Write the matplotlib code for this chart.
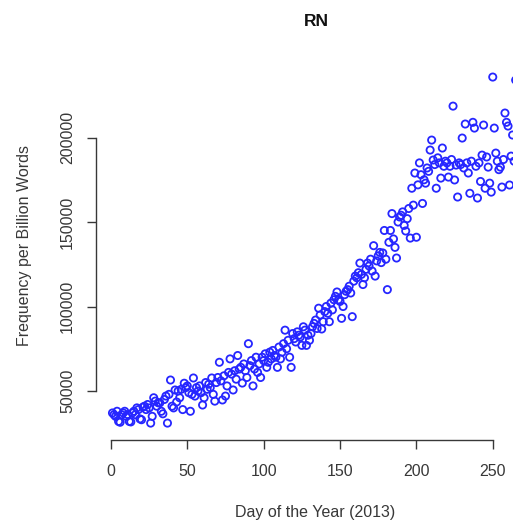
import numpy as np
import matplotlib
matplotlib.use("Agg")
import matplotlib.pyplot as plt

plt.rcParams["font.family"] = ["Liberation Sans", "DejaVu Sans"]

# daily frequency of "RN" (thousands per billion words), day 1 = 1 Jan 2013
freq_k = [
    37, 36, 35, 38, 32, 31.5, 36,
    37, 38, 35, 36, 32, 31.7, 37,
    38, 36, 40, 39, 33.5, 33, 40.5,
    41, 39, 42, 40, 31, 35, 46,
    44, 41, 43, 43, 38, 36.5, 45,
    47, 31, 48, 56.5, 41, 40, 50.6,
    43.5, 50, 46, 51, 39, 54.6, 52,
    53, 49, 38, 48, 57.7, 47, 52,
    50, 53, 49, 41.7, 46, 55, 51,
    54, 52, 57.7, 48, 44, 55, 58,
    67, 56, 44.7, 59, 47, 53, 61,
    69, 60, 50.6, 62, 57, 71, 63,
    64, 54.7, 66, 62, 58, 78, 65,
    68, 53, 63, 70, 61, 66, 58,
    70, 68, 72, 64, 67, 73, 69,
    74, 71, 70, 64, 76, 69, 73,
    78, 86, 75, 80, 70, 64, 84,
    81, 79, 85, 83, 82, 77, 88,
    86, 77, 83, 80, 84, 88, 90,
    92, 87, 99, 95, 86.7, 91, 97,
    100, 96, 91, 102, 98, 104, 106,
    108.6, 104, 103, 93, 100, 107, 109,
    110, 112, 108, 94, 115, 118, 117,
    120, 125.7, 119, 113, 117, 122, 125.7,
    124, 128, 121, 136, 118, 127, 130,
    132, 126, 131.7, 145, 128, 110, 138,
    145, 155, 140, 135, 128.7, 150, 153,
    154, 156, 148, 144.7, 152, 158, 140.5,
    170, 160, 179, 141, 172, 185, 178,
    161, 175, 173, 182, 180, 192.6, 198.5,
    186.7, 184, 170, 188, 185, 176, 193.8,
    183, 186, 185, 176.6, 183, 187, 218.6,
    174.9, 183.7, 164.8, 185, 184, 199.7, 182,
    208, 185, 179, 167, 186, 209, 205.6,
    183, 164.2, 185, 174, 189.6, 207.4, 170,
    188.5, 182.5, 173, 167.7, 235.8, 205.6, 190.8,
    186, 181, 182.5, 170.7, 187, 214.5, 209,
    206.8, 171.9, 189, 201.5, 186, 234,
]
days = np.arange(1, len(freq_k) + 1)
freq = np.array(freq_k) * 1000

x_ticks = [0, 50, 100, 150, 200, 250]
y_ticks = [50000, 100000, 150000, 200000]

ink = "#383838"

fig = plt.figure(figsize=(5.13, 5.26), dpi=100)
ax = fig.add_axes([0.1871, 0.1635, 0.8538, 0.7186])

ax.scatter(days, freq, s=27, facecolors="none", edgecolors="#2626ff", linewidths=1.3)

ax.set_xlim(-9.8, 277)
ax.set_ylim(21000, 244700)

# base-R look: no box, axis lines only span the ticks
for side in ["top", "right"]:
    ax.spines[side].set_visible(False)
ax.spines["left"].set_bounds(y_ticks[0], y_ticks[-1])
ax.spines["bottom"].set_bounds(x_ticks[0], x_ticks[-1])
for side in ["left", "bottom"]:
    ax.spines[side].set_color(ink)
    ax.spines[side].set_linewidth(1.0)

ax.set_xticks(x_ticks)
ax.set_yticks(y_ticks)
ax.set_yticklabels([str(v) for v in y_ticks], rotation=90, va="center")
ax.tick_params(axis="x", length=6.5, width=1.0, color=ink, labelcolor=ink,
               labelsize=11.5, pad=10.5)
ax.tick_params(axis="y", length=6.5, width=1.0, color=ink, labelcolor=ink,
               labelsize=11.5, pad=8.5)

fig.text(315 / 513, 1 - 512 / 526, "Day of the Year (2013)", ha="center", va="center",
         fontsize=11.5, color=ink)
fig.text(25 / 513, 1 - 246 / 526, "Frequency per Billion Words", ha="center", va="center",
         rotation=90, fontsize=11.5, color=ink)
fig.text(316 / 513, 1 - 21 / 526, "RN", ha="center", va="center",
         fontsize=12.5, fontweight="bold", color="#111111")

fig.savefig("out.png", dpi=100)
